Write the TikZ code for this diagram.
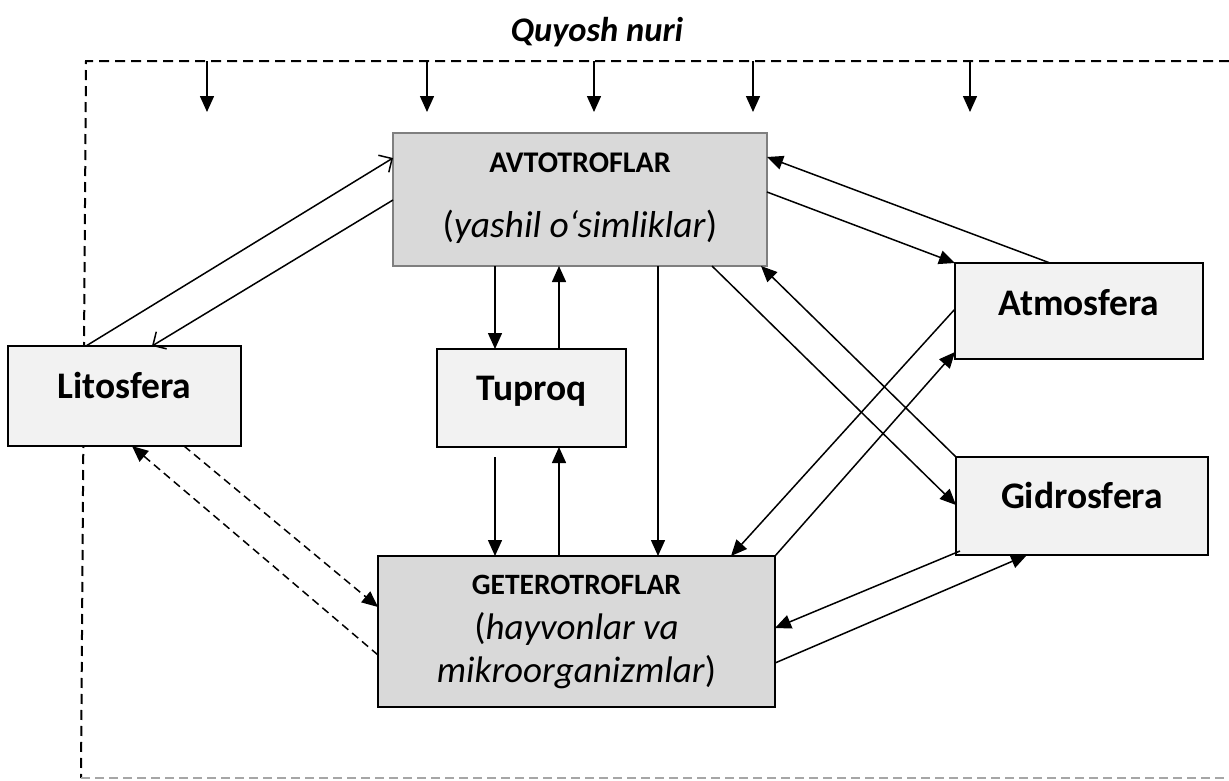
\documentclass[tikz,border=0pt]{standalone}
\usepackage{fontspec}
\setmainfont{Carlito}
\usetikzlibrary{arrows.meta,calc}
\definecolor{boxlight}{HTML}{F2F2F2}
\definecolor{boxdark}{HTML}{D9D9D9}
\definecolor{boxedge}{HTML}{7F7F7F}
\definecolor{framegray}{HTML}{A6A6A6}
\begin{document}
\begin{tikzpicture}[x=1pt,y=-1pt,
  box/.style={draw=black,line width=2pt,fill=boxlight,inner sep=0pt,outer sep=0pt},
  darkbox/.style={box,fill=boxdark},
  flow/.style={line width=1.5pt,-{Triangle[length=16pt,width=14pt]}},
  openflow/.style={line width=1.5pt,-{Straight Barb[length=10pt,width=20pt,line width=1.5pt]}},
  dashflow/.style={flow,dash pattern=on 8pt off 5pt},
  frameline/.style={line width=2pt,dash pattern=on 10pt off 6pt},
  lbl/.style={inner sep=0pt,anchor=base},
  bigbold/.style={lbl,font=\fontsize{37.5}{45}\selectfont\bfseries},
]
\useasboundingbox (0,0) rectangle (1229,780);

% dashed frame of the system under sunlight
\coordinate (ftl) at (86,61);
\coordinate (ftr) at (1229,61);
\coordinate (fbl) at (81,778);
\coordinate (fbr) at (1229,778);
\draw[frameline] (ftr) -- (ftl) -- (fbl);
\draw[line width=1.5pt,framegray,dash pattern=on 9pt off 5pt] (fbl) -- (fbr);

% sunlight
\node[lbl,font=\fontsize{34.5}{41}\selectfont\bfseries\itshape] (sun) at (597,41) {Quyosh nuri};
\foreach \i/\x in {1/207,2/427,3/594,4/753,5/970}{
  \coordinate (s\i) at (\x,61);
  \draw[flow] (s\i) -- ++(0,51);
}

% boxes
\node[box,draw=boxedge,fill=boxdark,minimum width=374pt,minimum height=133pt] (avto) at (580,199.5) {};
\node[box,minimum width=233pt,minimum height=100pt] (lit) at (124.5,396) {};
\node[box,minimum width=189pt,minimum height=98pt] (tup) at (531.5,398) {};
\node[box,minimum width=248pt,minimum height=96pt] (atm) at (1079,311) {};
\node[box,minimum width=252pt,minimum height=98pt] (gid) at (1082,506) {};
\node[darkbox,minimum width=397pt,minimum height=151pt] (get) at (576.5,631.5) {};

% box texts
\node[lbl,font=\fontsize{30}{36}\selectfont\bfseries] (avtoA) at ($(avto.north)+(0,39)$) {AVTOTROFLAR};
\node[lbl,font=\fontsize{37.5}{45}\selectfont] (avtoB) at ($(avto.north)+(0,104)$) {(\textit{yashil o‘simliklar})};
\node[bigbold] (litT) at ($(lit.north)+(0,52)$) {Litosfera};
\node[bigbold] (tupT) at ($(tup.north)+(0,51)$) {Tuproq};
\node[bigbold] (atmT) at ($(atm.north)+(0,52)$) {Atmosfera};
\node[bigbold] (gidT) at ($(gid.north)+(0,51)$) {Gidrosfera};
\node[lbl,font=\fontsize{29.5}{35}\selectfont\bfseries] (getA) at ($(get.north)+(0,38)$) {GETEROTROFLAR};
\node[lbl,font=\fontsize{37}{44}\selectfont] (getB) at ($(get.north)+(0,83)$) {(\textit{hayvonlar va}};
\node[lbl,font=\fontsize{37}{44}\selectfont] (getC) at ($(get.north)+(0,126)$) {\textit{mikroorganizmlar})};

% Litosfera <-> Avtotroflar
\draw[openflow] ($(lit.north west)+(78,0)$) -- ($(avto.north west)+(0,25)$);
\draw[openflow] ($(avto.north west)+(0,67)$) -- ($(lit.north west)+(144,0)$);

% Avtotroflar <-> Tuproq <-> Geterotroflar
\draw[flow] ($(avto.south west)+(102,0)$) -- ($(tup.north west)+(58,0)$);
\draw[flow] ($(tup.north west)+(122,0)$) -- ($(avto.south west)+(166,0)$);
\draw[flow] ($(tup.south west)+(58,10)$) -- ($(get.north west)+(117,0)$);
\draw[flow] ($(get.north west)+(181,0)$) -- ($(tup.south west)+(122,0)$);
\draw[flow] ($(avto.south west)+(265,0)$) -- ($(get.north west)+(280,0)$);

% Avtotroflar <-> Atmosfera, Gidrosfera
\draw[flow] ($(atm.north west)+(95,0)$) -- ($(avto.north east)+(0,24)$);
\draw[flow] ($(avto.north east)+(0,59)$) -- (atm.north west);
\draw[flow] (gid.north west) -- ($(avto.south east)+(-6,0)$);
\draw[flow] ($(avto.south east)+(-55,0)$) -- ($(gid.north west)+(0,48)$);

% Geterotroflar <-> Atmosfera, Gidrosfera
\draw[flow] ($(atm.north west)+(0,46)$) -- ($(get.north east)+(-44,0)$);
\draw[flow] (get.north east) -- ($(atm.north west)+(0,89)$);
\draw[flow] ($(gid.south west)+(4,-4)$) -- ($(get.north east)+(0,72)$);
\draw[flow] ($(get.north east)+(0,107)$) -- ($(gid.south west)+(71,0)$);

% Litosfera <-> Geterotroflar
\draw[dashflow] ($(lit.south west)+(176,0)$) -- ($(get.north west)+(0,51)$);
\draw[dashflow] ($(get.north west)+(0,99)$) -- ($(lit.south west)+(124,0)$);
\end{tikzpicture}
\end{document}
